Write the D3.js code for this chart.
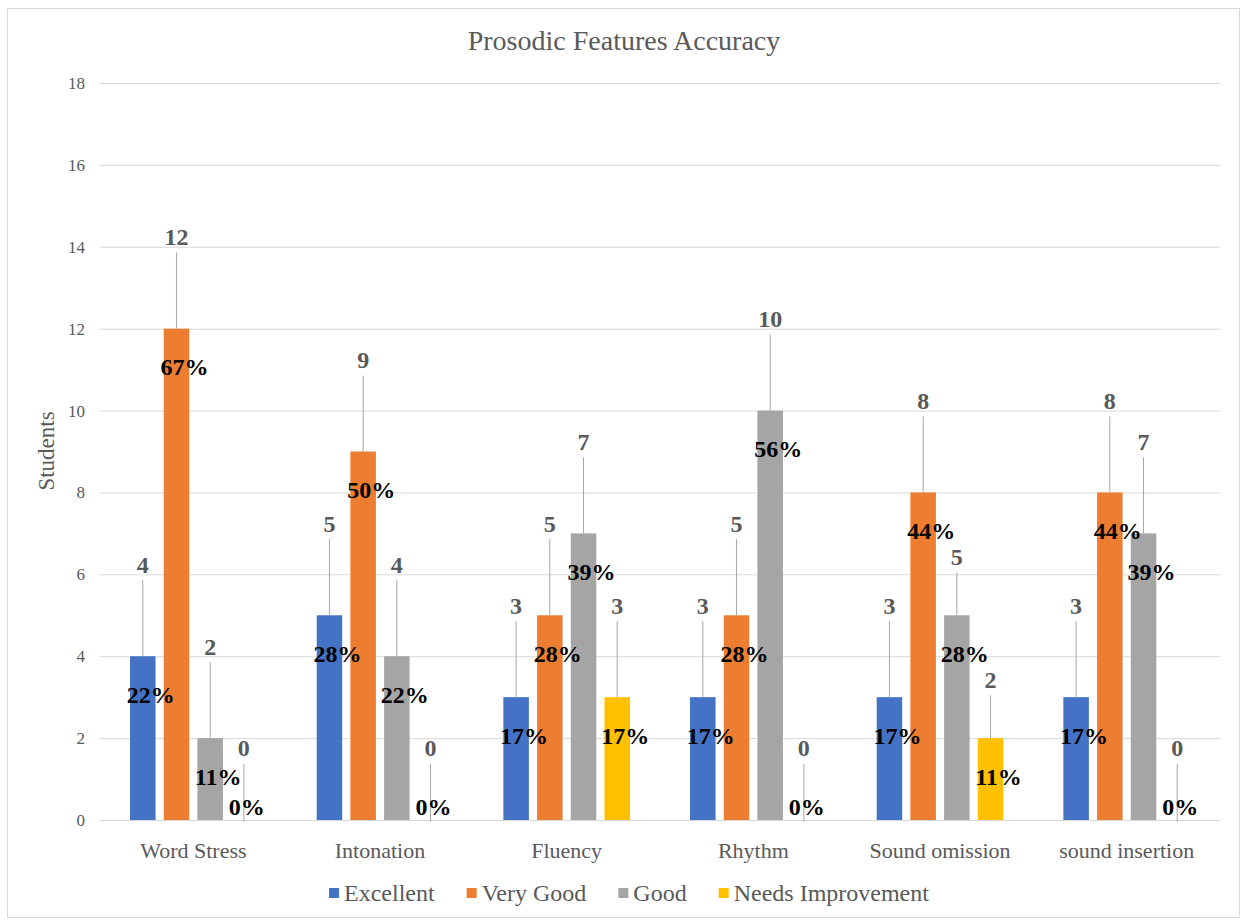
<!DOCTYPE html>
<html>
<head>
<meta charset="utf-8">
<script src="https://cdn.jsdelivr.net/npm/d3@7"></script>
<style>
  html, body { margin: 0; padding: 0; background: #fff; }
  svg text { font-family: "Liberation Serif", "Times New Roman", serif; }
</style>
</head>
<body>
<svg id="chart" width="1243" height="923" font-family="Liberation Serif, Times New Roman, serif"></svg>
<script>
// Prosodic features: number of students per rating level
const categories = ["Word Stress", "Intonation", "Fluency", "Rhythm", "Sound omission", "sound insertion"];
const seriesNames = ["Excellent", "Very Good", "Good", "Needs Improvement"];
const excellent = [4, 5, 3, 3, 3, 3];
const veryGood = [12, 9, 5, 5, 8, 8];
const good = [2, 4, 7, 10, 5, 7];
const needsImprovement = [0, 0, 3, 0, 2, 0];
const yTicks = [0, 2, 4, 6, 8, 10, 12, 14, 16, 18];
const seriesColors = ["#4472C4", "#ED7D31", "#A5A5A5", "#FFC000"];

const seriesValues = [excellent, veryGood, good, needsImprovement];
const rows = categories.map((c, i) => {
  const vals = seriesValues.map(s => s[i]);
  const total = d3.sum(vals);
  return { category: c, total, items: seriesNames.map((n, j) => ({ series: n, idx: j, value: vals[j], share: vals[j] / total })) };
});

const svg = d3.select("#chart");
const plot = { left: 100, right: 1220, top: 83, bottom: 820 };
const axisGray = "#595959";
const serif = "Liberation Serif, Times New Roman, serif";

// outer frame
svg.append("rect").attr("x", 7.5).attr("y", 8.5).attr("width", 1232).attr("height", 909)
  .attr("fill", "#fff").attr("stroke", "#d9d9d9").attr("stroke-width", 1);

const y = d3.scaleLinear().domain([0, 18]).range([plot.bottom, plot.top]);
const x0 = d3.scaleBand().domain(categories).range([plot.left, plot.right]).padding(0);
const slot = 33.7;
const x1 = d3.scaleBand().domain(seriesNames).range([0, slot * 4]).paddingInner(0.243).paddingOuter(0.1215);
const groupStart = c => x0(c) + x0.bandwidth() / 2 - slot * 2;

// title
svg.append("text").attr("x", 624).attr("y", 50).attr("text-anchor", "middle")
  .attr("font-size", 28).attr("fill", axisGray).text("Prosodic Features Accuracy");

// gridlines and y axis labels
const yAxis = d3.axisLeft(y).tickValues(yTicks).tickSize(-(plot.right - plot.left)).tickPadding(15).tickFormat(d3.format("d"));
const gy = svg.append("g").attr("transform", `translate(${plot.left},0)`).call(yAxis).attr("font-family", serif);
gy.select(".domain").remove();
gy.selectAll(".tick line").attr("stroke", "#d9d9d9").attr("stroke-width", 1);
gy.selectAll(".tick text").attr("font-size", 17).attr("fill", axisGray);

// y axis title
svg.append("text").attr("transform", `translate(54,451) rotate(-90)`).attr("text-anchor", "middle")
  .attr("font-size", 23).attr("fill", axisGray).text("Students");

// x axis category labels
const xAxis = d3.axisBottom(x0).tickSize(0).tickPadding(22);
const gx = svg.append("g").attr("transform", `translate(0,${plot.bottom})`).call(xAxis).attr("font-family", serif);
gx.select(".domain").attr("stroke", "#d9d9d9");
gx.selectAll(".tick text").attr("font-size", 22).attr("fill", axisGray);

// bars
const groups = svg.append("g").selectAll("g").data(rows).join("g")
  .attr("transform", d => `translate(${groupStart(d.category)},0)`);

groups.selectAll("rect").data(d => d.items).join("rect")
  .attr("x", d => x1(d.series))
  .attr("width", x1.bandwidth())
  .attr("y", d => y(d.value))
  .attr("height", d => y(0) - y(d.value))
  .attr("fill", d => seriesColors[d.idx]);

// label placement: percentage inside near the bar top, count above with a leader line;
// a count label that would run into the neighbouring bar's percentage drops just below it
const cx = d => x1(d.series) + x1.bandwidth() / 2;
const pctY = d => d.value === 0 ? y(0) - 13 : y(d.value) + 38;
const pctX = d => cx(d) + (d.value === 0 ? 3 : 8);
rows.forEach(r => {
  r.items.forEach((d, j) => {
    let cy = y(d.value) - (d.value === 0 ? 72 : 92);
    const prev = r.items[j - 1];
    if (prev && prev.value > 0) {
      const py = pctY(prev);
      const pRight = pctX(prev) + 24;
      if (pRight > cx(d) - 8 && Math.abs(cy - py) < 24) cy = py + 26;
    }
    d.countY = cy;
  });
});

groups.selectAll("line.leader").data(d => d.items).join("line")
  .attr("class", "leader")
  .attr("x1", cx).attr("x2", cx)
  .attr("y1", d => d.countY + 16)
  .attr("y2", d => d.value === 0 ? y(0) + 2 : y(d.value))
  .attr("stroke", "#a6a6a6").attr("stroke-width", 1);

groups.selectAll("text.count").data(d => d.items).join("text")
  .attr("class", "count")
  .attr("x", cx)
  .attr("y", d => d.countY)
  .attr("dy", "0.35em")
  .attr("text-anchor", "middle")
  .attr("font-size", 24).attr("font-weight", "bold").attr("fill", axisGray)
  .text(d => d.value);

groups.selectAll("text.pct").data(d => d.items).join("text")
  .attr("class", "pct")
  .attr("x", pctX)
  .attr("y", pctY)
  .attr("dy", "0.35em")
  .attr("text-anchor", "middle")
  .attr("font-size", 24).attr("font-weight", "bold").attr("fill", "#000")
  .text(d => Math.round(d.share * 100) + "%");

// legend
const legend = svg.append("g");
const items = legend.selectAll("g").data(seriesNames).join("g");
items.append("rect").attr("width", 10).attr("height", 10).attr("y", 888)
  .attr("fill", (d, i) => seriesColors[i]);
items.append("text").attr("x", 15).attr("y", 901).attr("font-size", 24).attr("fill", axisGray).text(d => d);
let cursor = 0;
const offsets = [];
const gap = 32;
items.each(function () {
  offsets.push(cursor);
  const tw = d3.select(this).select("text").node().getComputedTextLength();
  cursor += 15 + tw + gap;
});
const legendWidth = cursor - gap;
const legendLeft = 629 - legendWidth / 2;
items.attr("transform", (d, i) => `translate(${legendLeft + offsets[i]},0)`);
</script>
</body>
</html>
